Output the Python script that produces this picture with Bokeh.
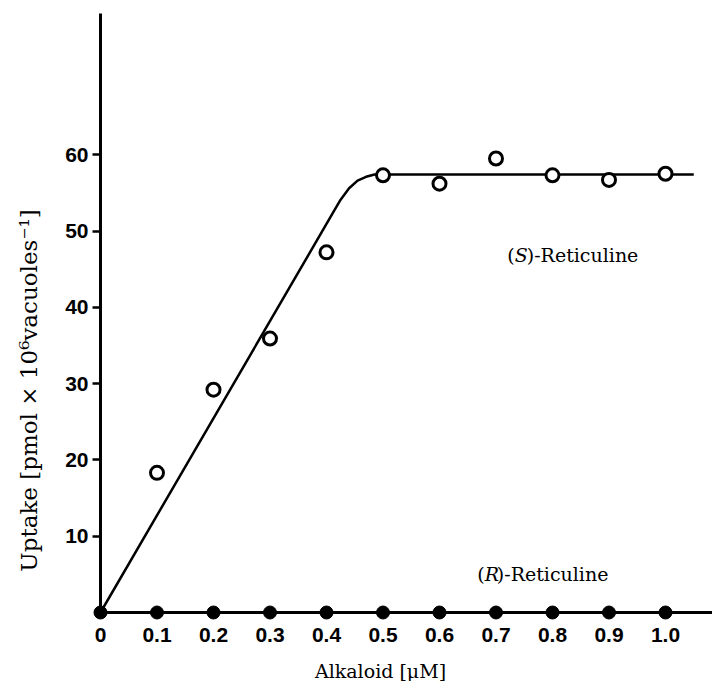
import math
from bokeh.plotting import figure
from bokeh.models import Range1d, FixedTicker, Label
from bokeh.embed import file_html
from bokeh.resources import INLINE

# ---- data ----
conc = [0.1, 0.2, 0.3, 0.4, 0.5, 0.6, 0.7, 0.8, 0.9, 1.0]
s_uptake = [18.3, 29.2, 35.9, 47.2, 57.3, 56.2, 59.5, 57.3, 56.7, 57.5]

r_conc = [0.0, 0.1, 0.2, 0.3, 0.4, 0.5, 0.6, 0.7, 0.8, 0.9, 1.0]
r_uptake = [0.0, 0.0, 0.0, 0.0, 0.0, 0.0, 0.0, 0.0, 0.0, 0.0, 0.0]

fit_x = [0.0, 0.41, 0.425, 0.44, 0.455, 0.47, 0.485, 1.05]
fit_y = [0.0, 52.2, 54.1, 55.6, 56.6, 57.1, 57.4, 57.4]

x_ticks = [0.0, 0.1, 0.2, 0.3, 0.4, 0.5, 0.6, 0.7, 0.8, 0.9, 1.0]
x_tick_labels = ["0", "0.1", "0.2", "0.3", "0.4", "0.5", "0.6", "0.7", "0.8", "0.9", "1.0"]
y_ticks = [10, 20, 30, 40, 50, 60]

x_title = "Alkaloid [μM]"
y_title = "Uptake [pmol × 10⁶vacuoles⁻¹]"
s_name = ["(", "S", ")-Reticuline"]
r_name = ["(", "R", ")-Reticuline"]

SERIF = "DejaVu Serif"
SANS = "Liberation Sans"

p = figure(width=712, height=681,
           x_range=Range1d(-0.17699, 1.08319), y_range=Range1d(-9.043, 80.21),
           output_backend="svg", toolbar_location=None, min_border=0)
p.outline_line_color = None
p.grid.visible = False
p.background_fill_color = "white"

for ax in (p.xaxis[0], p.yaxis[0]):
    ax.fixed_location = 0
    ax.axis_line_width = 3
    ax.axis_line_color = "black"
    ax.major_tick_line_width = 2.5
    ax.major_tick_line_color = "black"
    ax.minor_tick_line_color = None
    ax.major_label_text_font = SANS
    ax.major_label_text_font_style = "bold"
    ax.major_label_text_font_size = "21px"
    ax.major_label_text_color = "black"

xa = p.xaxis[0]
xa.bounds = (0, 1.09)
xa.ticker = FixedTicker(ticks=x_ticks)
xa.major_label_overrides = {t: l for t, l in zip(x_ticks, x_tick_labels)}
xa.major_tick_in = 0
xa.major_tick_out = 0
xa.major_label_standoff = 15

ya = p.yaxis[0]
ya.bounds = (0, 78.5)
ya.ticker = FixedTicker(ticks=y_ticks)
ya.major_tick_in = 0
ya.major_tick_out = 8
ya.major_label_standoff = 4

p.line(fit_x, fit_y, line_width=2.5, line_color="black")
p.scatter(conc, s_uptake, marker="circle", size=13, fill_color="white",
          line_color="black", line_width=3)
p.scatter(r_conc, r_uptake, marker="circle", size=13, fill_color="black",
          line_color="black")

def piece_label(parts, x, y, size):
    widths = [0.39, 0.634, 0]
    off = 0.0
    for i, txt in enumerate(parts):
        p.add_layout(Label(x=x, y=y, x_offset=off, text=txt, text_font=SERIF,
                           text_font_size=f"{size}px",
                           text_font_style="italic" if i == 1 else "normal",
                           text_align="left", text_baseline="middle",
                           text_color="black"))
        off += widths[i] * size

piece_label(s_name, 0.720, 46.9, 19)
piece_label(r_name, 0.667, 5.1, 19)

p.add_layout(Label(x=0.4956, y=-7.7, text=x_title, text_font=SERIF,
                   text_font_size="19px", text_align="center",
                   text_baseline="middle", text_color="black"))
p.add_layout(Label(x=-0.1274, y=29.1, text=y_title, text_font=SERIF,
                   text_font_size="23px", text_align="center",
                   text_baseline="middle", angle=math.pi / 2,
                   text_color="black"))

open("out.html", "w").write(file_html(p, INLINE))
